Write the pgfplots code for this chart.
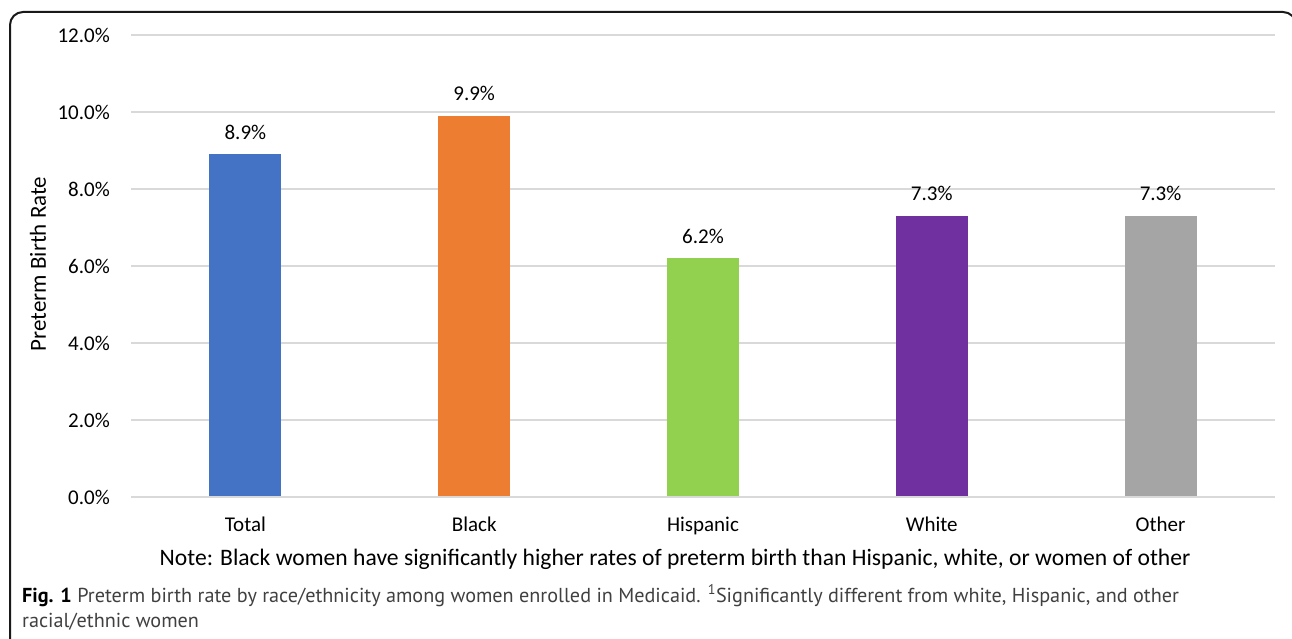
\documentclass[border=0pt]{standalone}
\usepackage{pgfplots}
\pgfplotsset{compat=1.18}
\usepackage{fontspec}
\setmainfont{Carlito}
\newfontfamily\capfont{PT Sans}
\definecolor{cBlue}{HTML}{4472C4}
\definecolor{cOrange}{HTML}{ED7D31}
\definecolor{cGreen}{HTML}{92D050}
\definecolor{cPurple}{HTML}{7030A0}
\definecolor{cGray}{HTML}{A5A5A5}
\definecolor{gridc}{HTML}{D9D9D9}
\begin{document}
\begin{tikzpicture}[x=1pt,y=1pt]
\useasboundingbox (0,0) rectangle (1292,-639);
\begin{scope}
\clip (0,0) rectangle (1292,-639);
\draw[line width=2pt, rounded corners=13pt, color=black!90] (10,-700) -- (10,-12) -- (1296,-12) -- (1296,-700);
\end{scope}
\begin{axis}[
  at={(131pt,-497pt)}, anchor=south west,
  scale only axis, width=1144pt, height=462pt,
  xmin=-0.5, xmax=4.5, ymin=0, ymax=12,
  axis line style={draw=none},
  axis x line*=bottom,
  xtick={0,1,2,3,4},
  xticklabels={Total,Black,Hispanic,White,Other},
  ytick={0,2,4,6,8,10,12},
  yticklabels={0.0\%,2.0\%,4.0\%,6.0\%,8.0\%,10.0\%,12.0\%},
  major tick length=0pt,
  ymajorgrids, grid style={gridc, line width=1.5pt},
  tick label style={font=\fontsize{21}{25}\selectfont, inner sep=0pt},
  yticklabel style={anchor=east, xshift=-21pt},
  xticklabel style={anchor=north, yshift=-20pt},
  ybar, bar width=72pt, bar shift=0pt,
  point meta=explicit symbolic,
  nodes near coords,
  every node near coord/.style={font=\fontsize{21}{25}\selectfont, anchor=base, inner sep=0pt, yshift=15pt, black},
  clip=false,
]
\addplot[fill=cBlue, draw=none] coordinates {(0,8.9) [8.9\%]};
\addplot[fill=cOrange, draw=none] coordinates {(1,9.9) [9.9\%]};
\addplot[fill=cGreen, draw=none] coordinates {(2,6.2) [6.2\%]};
\addplot[fill=cPurple, draw=none] coordinates {(3,7.3) [7.3\%]};
\addplot[fill=cGray, draw=none] coordinates {(4,7.3) [7.3\%]};
\draw[gridc, line width=1.5pt] (axis cs:-0.5,0) -- (axis cs:4.5,0);
\end{axis}
\node[rotate=90, font=\fontsize{23}{27}\selectfont] at (38,-264) {Preterm Birth Rate};
\node[anchor=base, font=\fontsize{23.6}{27}\selectfont, inner sep=0pt] at (675,-565) {Note: Black women have significantly higher rates of preterm birth than Hispanic, white, or women of other};
\node[anchor=base west, inner sep=0pt, font=\capfont\fontsize{20.2}{24}\selectfont, text=black!75] at (22,-602) {\textbf{\color{black}Fig. 1} Preterm birth rate by race/ethnicity among women enrolled in Medicaid. \textsuperscript{1}Significantly different from white, Hispanic, and other};
\node[anchor=base west, inner sep=0pt, font=\capfont\fontsize{20.2}{24}\selectfont, text=black!75] at (22,-627) {racial/ethnic women};
\end{tikzpicture}
\end{document}
